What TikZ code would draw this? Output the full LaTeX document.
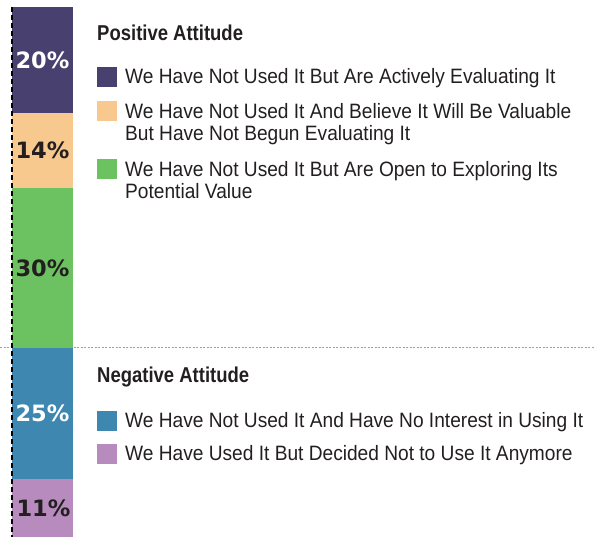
\documentclass[tikz,border=0pt]{standalone}
\usepackage{fontspec}
\setmainfont[FakeStretch=0.92]{Liberation Sans}
\newfontfamily\headfont[FakeStretch=0.86]{Liberation Sans Bold}
\newfontfamily\pctfont{DejaVu Sans Bold}
\definecolor{cpurple}{HTML}{48416F}
\definecolor{corange}{HTML}{F8C98E}
\definecolor{cgreen}{HTML}{6CC160}
\definecolor{cblue}{HTML}{3E87B1}
\definecolor{cpink}{HTML}{B88BBF}
\definecolor{ctext}{HTML}{231F20}
\begin{document}
\begin{tikzpicture}[x=1pt,y=-1pt,
  seg/.style={rectangle,inner sep=0pt,minimum width=61pt,font=\pctfont\fontsize{22.5}{22.5}\selectfont},
  swatch/.style={rectangle,inner sep=0pt,minimum width=20pt,minimum height=20pt,anchor=north west},
  legtext/.style={anchor=base west,inner sep=0pt,align=left,text=ctext,font=\fontsize{20.8}{22.5}\selectfont},
  heading/.style={anchor=base west,inner sep=0pt,text=ctext,font=\headfont\fontsize{21.5}{21.5}\selectfont}]
\useasboundingbox (0,0) rectangle (606,537);
% divider
\coordinate (dl) at (0,347.5);
\coordinate (dr) at (594,347.5);
\draw[gray!75,line width=1.4pt,dash pattern=on 2pt off 1.5pt] (dl) -- (dr);
% bar segments
\node[seg,fill=cpurple,text=white,minimum height=106pt] (s1) at (42.5,60) {20\%};
\node[seg,fill=corange,text=ctext,minimum height=75pt] (s2) at (42.5,150.5) {14\%};
\node[seg,fill=cgreen,text=ctext,minimum height=160pt] (s3) at (42.5,268) {30\%};
\node[seg,fill=cblue,text=white,minimum height=131pt] (s4) at (42.5,413.5) {25\%};
\node[seg,fill=cpink,text=ctext,minimum height=58pt] (s5) at (42.5,508) {\hspace{2pt}11\%};
% dashed axis
\coordinate (at) at (12,7);
\coordinate (ab) at (12,537);
\draw[black,line width=1.8pt,dash pattern=on 5pt off 3pt] (at) -- (ab);
% legend
\node[heading] (hp) at (97,41) {Positive Attitude};
\node[swatch,fill=cpurple] (k1) at (97,67) {};
\node[legtext] (t1) at (125,84) {We Have Not Used It But Are Actively Evaluating It};
\node[swatch,fill=corange] (k2) at (97,101) {};
\node[legtext] (t2) at (125,141) {We Have Not Used It And Believe It Will Be Valuable\\But Have Not Begun Evaluating It};
\node[swatch,fill=cgreen] (k3) at (97,159) {};
\node[legtext] (t3) at (125,199) {We Have Not Used It But Are Open to Exploring Its\\Potential Value};
\node[heading] (hn) at (97,383) {Negative Attitude};
\node[swatch,fill=cblue] (k4) at (97,411) {};
\node[legtext] (t4) at (125,428) {We Have Not Used It And Have No Interest in Using It};
\node[swatch,fill=cpink] (k5) at (97,444) {};
\node[legtext] (t5) at (125,461) {We Have Used It But Decided Not to Use It Anymore};
\end{tikzpicture}
\end{document}
